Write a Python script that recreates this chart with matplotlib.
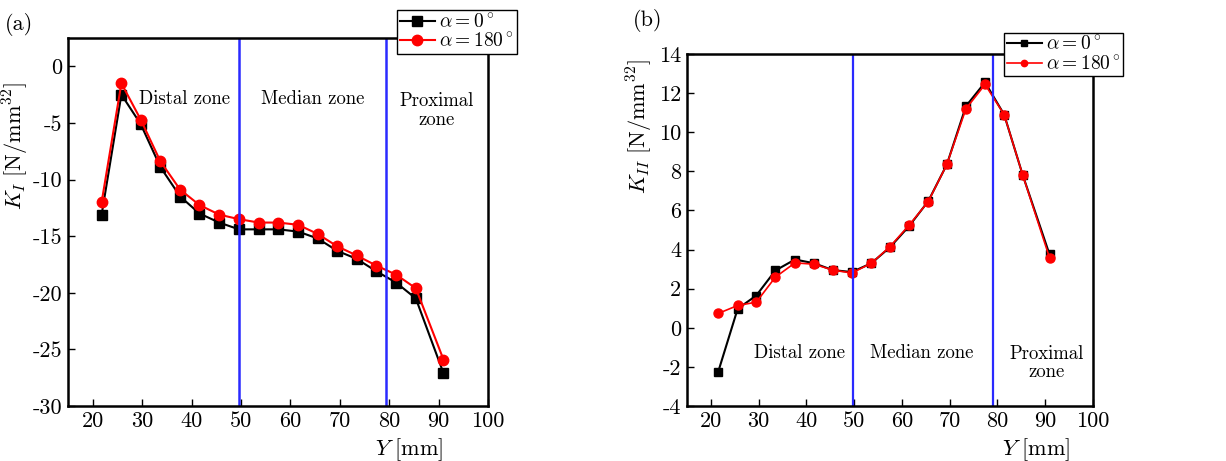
import matplotlib
matplotlib.use("Agg")
import matplotlib.pyplot as plt

plt.rcParams['font.family'] = 'cmr10'
plt.rcParams['mathtext.fontset'] = 'cm'
plt.rcParams['axes.unicode_minus'] = False
plt.rcParams['axes.formatter.use_mathtext'] = False

# (a) K_I
ya = [21.8, 25.8, 29.7, 33.7, 37.7, 41.6, 45.6, 49.6, 53.6, 57.6, 61.6, 65.5, 69.5, 73.4, 77.4, 81.4, 85.4, 91.0]
ki_0 = [-13.1, -2.5, -5.1, -8.9, -11.5, -13.0, -13.8, -14.4, -14.4, -14.4, -14.6, -15.2, -16.3, -17.0, -18.1, -19.1, -20.5, -27.1]
ki_180 = [-12.0, -1.5, -4.7, -8.4, -10.9, -12.25, -13.1, -13.5, -13.8, -13.8, -14.0, -14.8, -15.9, -16.7, -17.6, -18.4, -19.6, -25.9]

# (b) K_II
yb = [21.5, 25.6, 29.5, 33.5, 37.6, 41.6, 45.5, 49.5, 53.6, 57.5, 61.5, 65.5, 69.4, 73.4, 77.4, 81.4, 85.3, 90.9]
kii_0 = [-2.27, 0.97, 1.65, 2.93, 3.49, 3.3, 2.95, 2.85, 3.3, 4.12, 5.2, 6.47, 8.35, 11.33, 12.55, 10.9, 7.8, 3.75]
kii_180 = [0.73, 1.14, 1.31, 2.59, 3.32, 3.25, 2.95, 2.8, 3.3, 4.15, 5.25, 6.45, 8.35, 11.2, 12.44, 10.9, 7.8, 3.58]

zone_lines_a = [49.6, 79.3]
zone_lines_b = [49.7, 79.0]

fig = plt.figure(figsize=(12.26, 4.61), dpi=100)
ax1 = fig.add_axes([0.0555, 0.1193, 0.3425, 0.7983])
ax2 = fig.add_axes([0.5604, 0.1193, 0.3311, 0.7636])

fs = 16
zfs = 13.5
lfs = 14

for ax in (ax1, ax2):
    for s in ax.spines.values():
        s.set_linewidth(1.8)
    ax.tick_params(direction='in', length=5, width=1, labelsize=fs, pad=4)
    ax.set_xlim(15, 100)
    ax.set_xticks(range(20, 101, 10))

# panel a
ax1.plot(ya, ki_0, '-s', color='black', markersize=6.5, lw=1.5, label=r'$\alpha = 0^\circ$')
ax1.plot(ya, ki_180, '-o', color='red', markersize=7.5, lw=1.5, label=r'$\alpha = 180^\circ$')
for x in zone_lines_a:
    ax1.axvline(x, color='#2a2aff', lw=1.8)
ax1.set_ylim(-30, 2.5)
ax1.set_yticks(range(-30, 1, 5))
ax1.text(38.5, -2.9, 'Distal zone', fontsize=zfs, ha='center', va='center')
ax1.text(64.5, -2.9, 'Median zone', fontsize=zfs, ha='center', va='center')
ax1.text(89.6, -3.9, 'Proximal\nzone', fontsize=zfs, ha='center', va='center', linespacing=1.05)
ax1.legend(loc='upper right', bbox_to_anchor=(1.068, 1.075), fontsize=lfs, frameon=True,
           fancybox=False, edgecolor='black', framealpha=1, handlelength=1.8,
           handletextpad=0.2, borderpad=0.15, labelspacing=0.05, borderaxespad=0)

# panel b
ax2.plot(yb, kii_0, '-s', color='black', markersize=5.5, lw=1.5, label=r'$\alpha = 0^\circ$')
ax2.plot(yb, kii_180, '-o', color='red', markersize=6.5, lw=1.2, label=r'$\alpha = 180^\circ$')
for x in zone_lines_b:
    ax2.axvline(x, color='#2a2aff', lw=1.6)
ax2.set_ylim(-4, 14)
ax2.set_yticks(range(-4, 15, 2))
ax2.text(38.5, -1.3, 'Distal zone', fontsize=zfs, ha='center', va='center')
ax2.text(64.1, -1.3, 'Median zone', fontsize=zfs, ha='center', va='center')
ax2.text(90.3, -1.8, 'Proximal\nzone', fontsize=zfs, ha='center', va='center', linespacing=1.05)
ax2.legend(loc='upper right', bbox_to_anchor=(1.075, 1.06), fontsize=lfs, frameon=True,
           fancybox=False, edgecolor='black', framealpha=1, handlelength=1.8,
           handletextpad=0.2, borderpad=0.15, labelspacing=0.05, borderaxespad=0,
           markerscale=0.7)

# axis labels
fig.text(409 / 1226, 1 - 450 / 461, r'$Y\ [\mathrm{mm}]$', fontsize=fs, ha='center', va='center')
fig.text(1036 / 1226, 1 - 450 / 461, r'$Y\ [\mathrm{mm}]$', fontsize=fs, ha='center', va='center')
fig.text(16 / 1226, 1 - 146 / 461, r'$K_I\ [\mathrm{N/mm}^{32}]$', fontsize=fs, rotation=90, ha='center', va='center')
fig.text(640 / 1226, 1 - 127 / 461, r'$K_{II}\ [\mathrm{N/mm}^{32}]$', fontsize=fs, rotation=90, ha='center', va='center')
fig.text(19 / 1226, 1 - 24 / 461, '(a)', fontsize=fs, ha='center', va='center')
fig.text(648 / 1226, 1 - 20 / 461, '(b)', fontsize=fs, ha='center', va='center')

fig.savefig('out.png', dpi=100)
